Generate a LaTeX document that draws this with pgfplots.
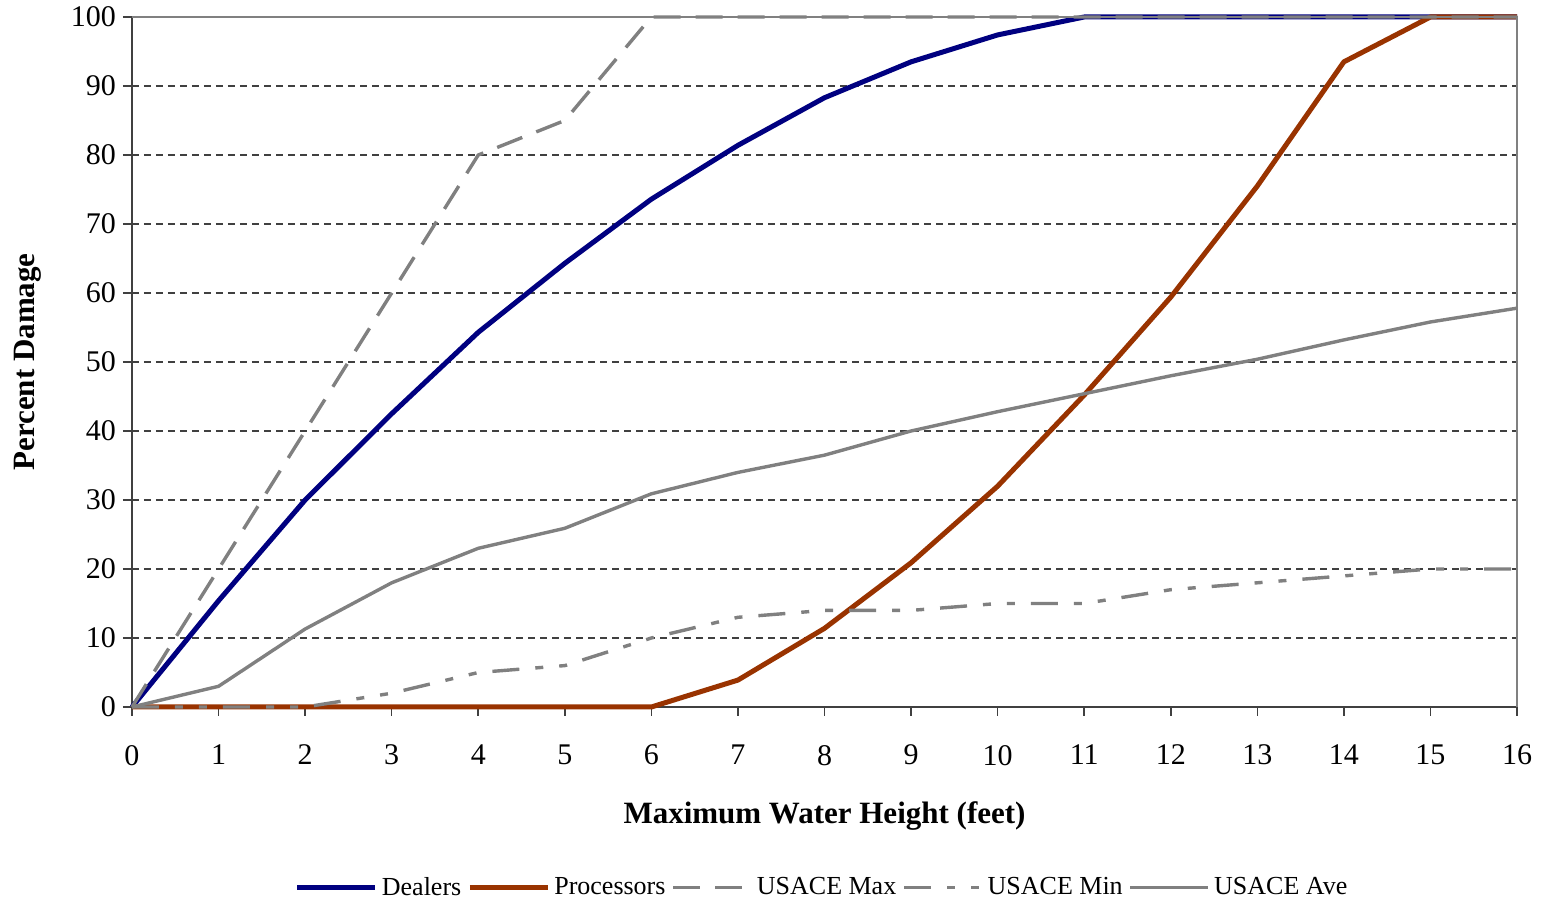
\documentclass[border=0pt]{standalone}
\usepackage{fontspec}
\setmainfont{Liberation Serif}
\usepackage{pgfplots}
\pgfplotsset{compat=1.18}
\definecolor{dealers}{HTML}{000080}
\definecolor{proc}{HTML}{993300}
\definecolor{usace}{HTML}{808080}
\definecolor{axisc}{HTML}{404040}
\begin{document}
\begin{tikzpicture}
\path[use as bounding box] (-66pt,-98.5pt) rectangle (705.5pt,353.5pt);
\begin{axis}[
  at={(0,0)}, anchor=south west,
  scale only axis, width=692.5pt, height=345pt,
  xmin=0, xmax=16, ymin=0, ymax=100,
  xtick={0,...,16}, ytick={0,10,...,100},
  axis x line=bottom, axis y line=left,
  axis line style={axisc, line width=0.8pt, -},
  tick align=outside, tick style={axisc, line width=0.8pt},
  major tick length=4.5pt,
  ymajorgrids, grid style={dash pattern=on 3.5pt off 2.5pt, axisc, line width=0.7pt},
  /pgf/number format/assume math mode=true,
  ticklabel style={font=\fontsize{15}{17}\selectfont},
  xticklabel style={yshift=-11pt},
  xlabel={\textbf{Maximum Water Height (feet)}},
  ylabel={\textbf{Percent Damage}},
  label style={font=\fontsize{15.5}{17}\selectfont},
  xlabel style={at={(axis description cs:0.5,-0.158)}, anchor=center},
  ylabel style={at={(axis description cs:-0.0751,0.5)}, anchor=center, rotate=0},
  clip=false,
  legend style={at={(axis description cs:0.499,-0.262)}, anchor=center, draw=none,
    legend columns=5, font=\fontsize{13}{15}\selectfont,
    /tikz/every odd column/.append style={column sep=0pt},
    /tikz/every even column/.append style={column sep=1pt}},
  legend image code/.code={\draw[#1] (0pt,0pt) -- (39pt,0pt);},
]
\addplot[dealers, line width=2.5pt, line join=round] coordinates {
(0,0) (1,15.4) (2,30) (3,42.5) (4,54.3) (5,64.3) (6,73.6) (7,81.4) (8,88.3) (9,93.5) (10,97.4) (11,100) (12,100) (13,100) (14,100) (15,100) (16,100)};
\addlegendentry{Dealers}
\addplot[proc, line width=2.5pt, line join=round] coordinates {
(0,0) (1,0) (2,0) (3,0) (4,0) (5,0) (6,0) (7,3.9) (8,11.4) (9,20.9) (10,32) (11,45.2) (12,59.4) (13,75.5) (14,93.5) (15,100) (16,100)};
\addlegendentry{Processors}
\addplot[usace, line width=1.7pt, dash pattern=on 13.5pt off 7.5pt] coordinates {
(0,0) (1,20) (2,40) (3,60) (4,80) (5,85) (6,100) (7,100) (8,100) (9,100) (10,100) (11,100) (12,100) (13,100) (14,100) (15,100) (16,100)};
\addlegendentry{USACE Max}
\addplot[usace, line width=1.7pt, dash pattern=on 13.5pt off 8pt on 4pt off 8pt on 4pt off 8pt] coordinates {
(0,0) (1,0) (2,0) (3,2) (4,5) (5,6) (6,10) (7,13) (8,14) (9,14) (10,15) (11,15) (12,17) (13,18) (14,19) (15,20) (16,20)};
\addlegendentry{USACE Min}
\addplot[usace, line width=1.7pt, line join=round] coordinates {
(0,0) (1,3) (2,11.3) (3,18) (4,23) (5,25.9) (6,30.9) (7,34) (8,36.5) (9,40) (10,42.8) (11,45.4) (12,48) (13,50.4) (14,53.2) (15,55.8) (16,57.8)};
\addlegendentry{USACE Ave}
\draw[usace, line width=0.8pt] (rel axis cs:0,1) -- (rel axis cs:1,1) -- (rel axis cs:1,0);
\end{axis}
\end{tikzpicture}
\end{document}
